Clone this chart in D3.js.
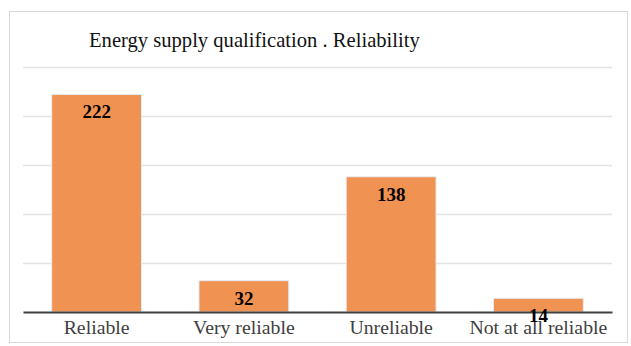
<!DOCTYPE html>
<html>
<head>
<meta charset="utf-8">
<script src="https://cdn.jsdelivr.net/npm/d3@7"></script>
<style>
  html, body { margin: 0; padding: 0; background: #fff; }
  svg { display: block; }
  text { font-family: "Liberation Serif", "Times New Roman", serif; }
</style>
</head>
<body>
<svg id="chart" width="631" height="346"></svg>
<script>
// Survey answers: how reliable is the energy supply
const categories = ["Reliable", "Very reliable", "Unreliable", "Not at all reliable"];
const counts = [222, 32, 138, 14];
const gridTicks = [0, 50, 100, 150, 200, 250];
const title = "Energy supply qualification . Reliability";

const svg = d3.select("#chart");
const plot = { left: 23, right: 612, top: 67, bottom: 312 };

// outer frame
svg.append("rect")
  .attr("x", 9.5).attr("y", 11.5)
  .attr("width", 618).attr("height", 331)
  .attr("fill", "#fff")
  .attr("stroke", "#d9d9d9").attr("stroke-width", 1);

svg.append("text")
  .attr("x", 89).attr("y", 47)
  .attr("font-size", 20.6)
  .attr("fill", "#111")
  .text(title);

const x = d3.scaleBand()
  .domain(categories)
  .range([plot.left, plot.right])
  .paddingInner(0.39)
  .paddingOuter(0.195);

const y = d3.scaleLinear()
  .domain([0, 250])
  .range([plot.bottom, plot.top]);

// horizontal gridlines
svg.append("g")
  .selectAll("line")
  .data(gridTicks.filter(d => d > 0))
  .join("line")
  .attr("x1", plot.left).attr("x2", plot.right)
  .attr("y1", d => Math.round(y(d)) + 0.5)
  .attr("y2", d => Math.round(y(d)) + 0.5)
  .attr("stroke", "#e3e3e3")
  .attr("stroke-width", 1.5);

// bars
svg.append("g")
  .selectAll("rect")
  .data(counts)
  .join("rect")
  .attr("x", (d, i) => x(categories[i]))
  .attr("y", d => y(d))
  .attr("width", x.bandwidth())
  .attr("height", d => y(0) - y(d))
  .attr("fill", "#f09252")
  .attr("stroke", "#e4ecf5")
  .attr("stroke-width", 1);

// baseline axis
const axis = d3.axisBottom(x).tickSize(0).tickPadding(8);
const gx = svg.append("g")
  .attr("transform", `translate(0,${plot.bottom})`)
  .call(axis);
gx.select(".domain")
  .attr("stroke", "#404040")
  .attr("stroke-width", 2.2);
gx.selectAll(".tick text")
  .attr("font-family", "Liberation Serif, serif")
  .attr("font-size", 19.8)
  .attr("fill", "#404040");

// value labels inside bar tops
svg.append("g")
  .selectAll("text")
  .data(counts)
  .join("text")
  .attr("x", (d, i) => x(categories[i]) + x.bandwidth() / 2)
  .attr("y", d => y(d) + 24)
  .attr("text-anchor", "middle")
  .attr("font-size", 19)
  .attr("font-weight", "bold")
  .attr("fill", "#000")
  .text(d => d);
</script>
</body>
</html>
